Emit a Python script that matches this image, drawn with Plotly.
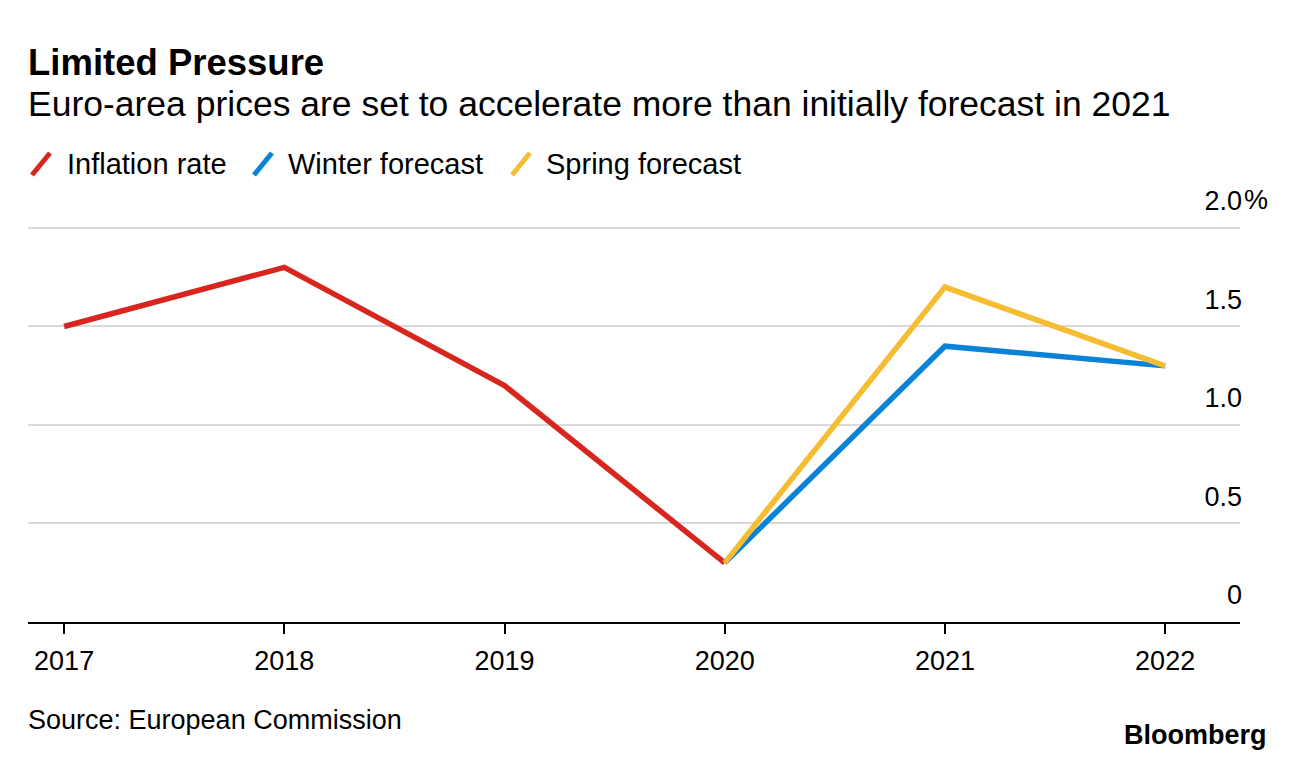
import plotly.graph_objects as go

# ---- data ----
inflation_years = [2017, 2018, 2019, 2020]
inflation_values = [1.5, 1.8, 1.2, 0.3]
forecast_years = [2020, 2021, 2022]
winter_values = [0.3, 1.4, 1.3]
spring_values = [0.3, 1.7, 1.3]
x_ticks = [2017, 2018, 2019, 2020, 2021, 2022]
y_ticks = [0, 0.5, 1.0, 1.5, 2.0]
y_ticktext = ["0", "0.5", "1.0", "1.5", "2.0"]
series_names = ["Inflation rate", "Winter forecast", "Spring forecast"]
series_colors = ["#d8261e", "#0a82d8", "#f6bd33"]

OFF = 8  # browser body margin
W, H = 1296, 760
L, R, T, B = 28 - OFF, 56 + OFF, 226 - OFF, 138 + OFF
pw, ph = W - L - R, H - T - B

def px(x):
    return (x - OFF - L) / pw

def py(y):
    return (H - B - (y - OFF)) / ph

FONT = "Liberation Sans, Arial, sans-serif"

fig = go.Figure()
fig.add_trace(go.Scatter(x=inflation_years, y=inflation_values, mode="lines",
                         line=dict(color=series_colors[0], width=5.5), name=series_names[0]))
fig.add_trace(go.Scatter(x=forecast_years, y=winter_values, mode="lines",
                         line=dict(color=series_colors[1], width=5.5), name=series_names[1]))
fig.add_trace(go.Scatter(x=forecast_years, y=spring_values, mode="lines",
                         line=dict(color=series_colors[2], width=5.5), name=series_names[2]))

annotations = [
    dict(text="<b>Limited Pressure</b>", x=px(26), y=py(62), xref="paper", yref="paper",
         xanchor="left", yanchor="middle", showarrow=False, font=dict(size=36.5, color="black", family=FONT)),
    dict(text="Euro-area prices are set to accelerate more than initially forecast in 2021",
         x=px(26), y=py(104), xref="paper", yref="paper", xanchor="left", yanchor="middle",
         showarrow=False, font=dict(size=35.5, color="black", family=FONT)),
    dict(text="Source: European Commission", x=px(26), y=py(720), xref="paper", yref="paper",
         xanchor="left", yanchor="middle", showarrow=False, font=dict(size=27, color="black", family=FONT)),
    dict(text="<b>Bloomberg</b>", x=px(1269), y=py(735), xref="paper", yref="paper",
         xanchor="right", yanchor="middle", showarrow=False, font=dict(size=27, color="black", family=FONT)),
    dict(text="%", x=1, y=2.0, xref="paper", yref="y", xanchor="left", yanchor="middle",
         yshift=28, xshift=2, showarrow=False, font=dict(size=27, color="black", family=FONT)),
]

shapes = []
legend_icon_x = [30, 252, 510]
legend_text_x = [65, 286, 544]
for name, color, ix, tx in zip(series_names, series_colors, legend_icon_x, legend_text_x):
    shapes.append(dict(type="line", xref="paper", yref="paper",
                       x0=px(ix + 2), y0=py(175), x1=px(ix + 20), y1=py(153),
                       line=dict(color=color, width=5)))
    annotations.append(dict(text=name, x=px(tx), y=py(164), xref="paper", yref="paper",
                            xanchor="left", yanchor="middle", showarrow=False,
                            font=dict(size=29, color="black", family=FONT)))

fig.update_layout(
    width=W, height=H,
    margin=dict(l=L, r=R, t=T, b=B, pad=0),
    paper_bgcolor="white", plot_bgcolor="white",
    showlegend=False,
    annotations=annotations,
    shapes=shapes,
    font=dict(family=FONT, color="black"),
    xaxis=dict(range=[2016.836, 2022.34], tickvals=x_ticks, ticktext=[str(v) for v in x_ticks],
               showgrid=False, zeroline=False, showline=True, linecolor="black", linewidth=2,
               ticks="outside", ticklen=10, tickwidth=2, tickcolor="black", ticklabelstandoff=4,
               tickfont=dict(size=27, color="black", family=FONT), fixedrange=True),
    yaxis=dict(range=[0, 2.01], tickvals=y_ticks, ticktext=y_ticktext, side="right",
               ticklabelposition="inside", ticklabelshift=-27, ticklabeloverflow="allow",
               ticklabelstandoff=-5,
               showgrid=True, gridcolor="#d9d9d9", gridwidth=2, zeroline=False, showline=False, ticks="",
               tickfont=dict(size=27, color="black", family=FONT), fixedrange=True),
)

fig.write_html("out.html", config={"displayModeBar": False})
